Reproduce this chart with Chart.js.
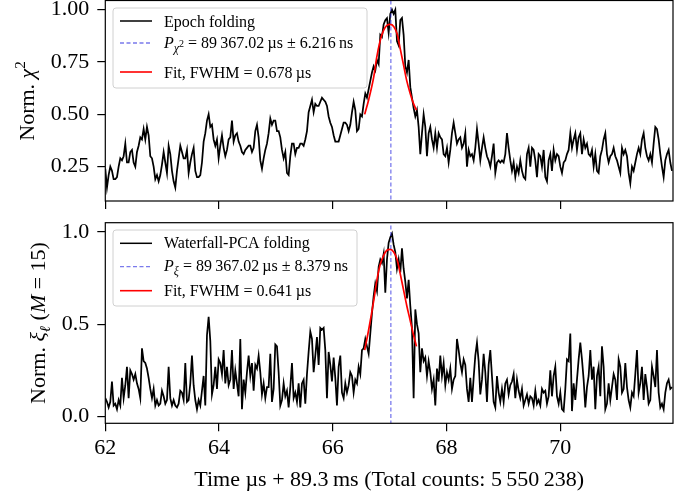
<!DOCTYPE html>
<html><head><meta charset="utf-8">
<script src="https://cdn.jsdelivr.net/npm/chart.js@4.4.1/dist/chart.umd.min.js"></script>
<style>
html,body{margin:0;padding:0;background:#fff;}
#wrap{position:relative;width:696px;height:499px;overflow:hidden;background:#fff;}
canvas{position:absolute;left:0;}
#c1{top:0}
#c2{top:215px}
</style></head><body>
<div id="wrap"><canvas id="c1" width="696" height="215"></canvas><canvas id="c2" width="696" height="284"></canvas></div>
<script>
// ---------------- data ----------------
const timeStart = 62.0;      // µs, first folded sample
const timeStep = 0.0293;     // µs between samples
const epochFolding = [
0.24,0.15,0.21,0.25,0.23,0.19,0.19,0.20,0.25,0.29,
0.28,0.30,0.36,0.27,0.27,0.32,0.33,0.27,0.25,0.32,
0.35,0.39,0.38,0.43,0.38,0.44,0.40,0.30,0.29,0.25,
0.19,0.21,0.18,0.21,0.26,0.32,0.27,0.22,0.35,0.31,
0.23,0.18,0.15,0.23,0.29,0.35,0.32,0.29,0.29,0.33,
0.22,0.27,0.31,0.34,0.23,0.20,0.20,0.21,0.27,0.37,
0.41,0.47,0.50,0.44,0.45,0.38,0.35,0.38,0.29,0.35,
0.40,0.34,0.30,0.33,0.38,0.39,0.47,0.37,0.40,0.41,
0.37,0.35,0.32,0.31,0.33,
0.34,0.35,0.35,0.32,0.34,
0.42,0.45,0.39,0.28,0.24,0.29,0.33,0.36,0.41,0.48,
0.45,0.47,0.47,0.42,0.42,0.39,0.33,0.29,0.32,0.22,
0.21,0.30,0.36,0.36,0.31,0.34,0.34,0.36,0.36,0.35,
0.38,0.42,0.51,0.54,0.57,0.51,0.55,0.54,0.54,0.56,
0.58,0.57,0.56,0.54,0.49,0.46,0.44,0.40,0.37,0.37,
0.37,0.40,0.43,0.46,0.46,0.45,0.42,0.45,0.51,0.56,
0.52,0.42,0.43,0.50,0.49,0.55,
0.60,0.58,0.62,0.66,0.70,0.73,0.71,0.76,0.74,0.88,
0.87,0.93,0.95,0.96,0.89,0.98,1.00,0.98,1.00,0.85,
0.83,0.95,0.96,0.88,0.73,0.70,0.76,0.63,0.58,0.53,
0.49,0.52,0.44,0.31,0.41,0.50,0.44,0.30,0.41,0.44,
0.38,0.34,0.41,0.34,0.41,0.39,0.38,0.31,0.30,0.34,
0.27,0.33,0.41,0.46,0.41,0.36,0.38,0.39,0.34,0.36,
0.41,0.25,0.33,0.30,0.31,0.28,0.34,0.43,0.36,0.28,
0.34,0.39,0.34,0.30,0.28,0.25,0.30,0.36,0.22,0.27,
0.28,0.27,0.28,0.27,0.31,0.41,0.34,0.28,0.23,0.27,
0.20,0.25,0.22,0.28,0.23,0.20,0.19,0.31,0.34,0.25,
0.34,0.33,0.28,0.20,0.31,0.30,0.25,0.33,0.20,0.18,
0.28,0.31,0.23,0.33,0.28,0.31,0.30,0.25,0.22,0.27,
0.28,0.31,0.33,0.41,0.34,0.38,0.41,0.33,0.39,0.41,
0.31,0.38,0.34,0.36,0.31,0.30,0.33,0.25,0.31,0.23,
0.22,0.30,0.33,0.38,0.41,0.31,0.27,0.30,0.31,0.34,
0.30,0.28,0.25,0.22,0.34,0.31,0.33,0.30,0.22,0.17,
0.25,0.23,0.27,0.31,0.34,0.31,0.38,0.41,0.34,0.30,
0.28,0.31,0.27,0.36,0.44,0.43,0.38,0.31,0.25,0.20,
0.28,0.31,0.33,0.27,0.23
];
const waterfallPCA = [
0.10,0.08,0.05,0.08,0.19,0.06,0.07,0.04,0.09,0.06,
0.21,0.10,0.17,0.27,0.10,0.25,0.23,0.20,0.23,0.18,
0.15,0.10,0.37,0.30,0.29,0.26,0.21,0.15,0.10,0.15,
0.06,0.09,0.06,0.07,0.14,0.11,0.07,0.09,0.27,0.10,
0.06,0.09,0.06,0.05,0.07,0.14,0.13,0.09,0.29,0.08,
0.09,0.18,0.33,0.17,0.09,0.04,0.09,0.06,0.14,0.22,
0.06,0.44,0.54,0.41,0.12,0.17,0.27,0.15,0.31,0.29,
0.23,0.36,0.18,0.27,0.17,0.20,0.36,0.15,0.25,0.18,
0.11,0.42,0.04,0.20,0.13,
0.24,0.33,0.22,0.29,0.14,0.28,0.26,0.33,0.24,0.12,
0.18,0.10,0.16,0.16,0.34,0.08,0.15,0.39,0.38,0.24,
0.06,0.09,0.18,0.11,0.14,0.05,0.16,0.29,0.10,0.13,
0.08,0.18,0.05,0.18,0.20,0.07,0.23,0.35,0.46,0.42,
0.24,0.33,0.43,0.28,0.48,0.47,0.48,0.36,0.10,0.35,
0.28,0.19,0.32,0.21,0.06,0.27,0.33,0.13,0.10,0.18,
0.13,0.17,0.24,0.22,0.13,0.20,0.18,0.27,0.23,0.36,0.37,
0.42,0.38,0.34,0.45,0.56,0.65,0.72,0.68,0.81,0.85,
0.83,0.88,0.67,0.85,0.94,0.97,0.99,0.93,0.89,0.80,
0.85,0.78,0.91,0.80,0.73,0.64,0.74,0.60,0.48,0.10,
0.58,0.50,0.45,0.24,0.37,0.30,0.32,0.22,0.30,0.24,
0.15,0.20,0.06,0.26,0.19,0.33,0.22,0.29,0.17,0.24,
0.20,0.26,0.15,0.20,0.22,0.42,0.36,0.29,0.24,0.31,
0.28,0.15,0.08,0.21,0.08,0.21,0.33,0.40,0.30,0.12,
0.20,0.34,0.24,0.08,0.28,0.36,0.22,0.08,0.05,0.22,
0.13,0.08,0.15,0.08,0.18,0.20,0.12,0.17,0.19,0.23,
0.10,0.20,0.14,0.10,0.15,0.06,0.09,0.12,0.07,0.11,
0.10,0.06,0.14,0.07,0.09,0.06,0.15,0.13,0.14,0.07,
0.11,0.25,0.11,0.22,0.27,0.11,0.07,0.13,0.04,0.03,
0.15,0.31,0.30,0.45,0.03,0.18,0.09,0.20,0.31,0.40,
0.31,0.20,0.05,0.16,0.22,0.36,0.20,0.27,0.04,0.22,
0.27,0.11,0.38,0.27,0.04,0.07,0.18,0.09,0.16,0.23,
0.20,0.09,0.31,0.27,0.13,0.15,0.29,0.16,0.09,0.05,
0.13,0.11,0.23,0.36,0.13,0.18,0.27,0.09,0.23,0.16,
0.07,0.09,0.27,0.22,0.16,0.36,0.13,0.05,0.07,0.04,
0.13,0.18,0.20,0.15,0.16
];
const fitTimes = [66.56,66.63,66.72,66.77,66.83,66.89,66.95,67.01,67.07,67.13,67.18,67.24,67.30,67.36,67.42,67.47];
const fitEpoch = [0.50,0.57,0.68,0.77,0.85,0.90,0.925,0.93,0.92,0.885,0.82,0.74,0.66,0.60,0.55,0.52];
const fitWaterfall = [0.36,0.47,0.63,0.73,0.82,0.87,0.90,0.905,0.89,0.85,0.78,0.69,0.60,0.52,0.44,0.38];
const foldPeakTime = 67.02;
const xTicks = [62,64,66,68,70];
const xTickLabels = ['62','64','66','68','70'];
const yTopTicks = [0.25,0.50,0.75,1.00];
const yTopTickLabels = ['0.25','0.50','0.75','1.00'];
const yBotTicks = [0.0,0.5,1.0];
const yBotTickLabels = ['0.0','0.5','1.0'];
const xTitle = 'Time µs + 89.3\u2009ms (Total counts: 5\u2009550\u2009238)';

// ---------------- drawing ----------------
const SERIF = "'Liberation Serif','DejaVu Serif','Times New Roman',serif";
const PERIOD_COLOR = 'rgba(40,40,225,0.62)';

function toXY(values){ return values.map((v,i)=>({x: timeStart + i*timeStep, y: v})); }
function fitXY(vals){ return fitTimes.map((t,i)=>({x:t, y:vals[i]})); }

function runsWidth(ctx, runs){
  let w = 0;
  for (const r of runs){ ctx.font = (r.it?'italic ':'') + r.s + 'px ' + SERIF; w += ctx.measureText(r.t).width; }
  return w;
}
function drawRuns(ctx, runs, x, y){
  let cx = x;
  ctx.textBaseline = 'alphabetic'; ctx.textAlign = 'left'; ctx.fillStyle = '#000';
  for (const r of runs){
    ctx.font = (r.it?'italic ':'') + r.s + 'px ' + SERIF;
    ctx.fillText(r.t, cx, y + (r.dy||0));
    cx += ctx.measureText(r.t).width;
  }
}

const decorPlugin = {
  id: 'decor',
  afterDatasetsDraw(chart, args, opts){
    const ctx = chart.ctx, a = chart.chartArea;
    ctx.save();
    // frame
    ctx.strokeStyle = '#000'; ctx.lineWidth = 1.2;
    ctx.strokeRect(a.left, a.top, a.right - a.left, a.bottom - a.top);
    // legend
    const L = opts.legend;
    ctx.beginPath();
    const bx=L.box[0], by=L.box[1], bw=L.box[2], bh=L.box[3], r=3;
    ctx.moveTo(bx+r,by); ctx.lineTo(bx+bw-r,by); ctx.quadraticCurveTo(bx+bw,by,bx+bw,by+r);
    ctx.lineTo(bx+bw,by+bh-r); ctx.quadraticCurveTo(bx+bw,by+bh,bx+bw-r,by+bh);
    ctx.lineTo(bx+r,by+bh); ctx.quadraticCurveTo(bx,by+bh,bx,by+bh-r);
    ctx.lineTo(bx,by+r); ctx.quadraticCurveTo(bx,by,bx+r,by);
    ctx.closePath();
    ctx.fillStyle = 'rgba(255,255,255,0.8)'; ctx.fill();
    ctx.strokeStyle = '#d0d0d0'; ctx.lineWidth = 1; ctx.stroke();
    L.rows.forEach(row=>{
      ctx.beginPath();
      ctx.strokeStyle = row.color; ctx.lineWidth = row.lw; ctx.setLineDash(row.dash||[]);
      ctx.moveTo(120, row.ly); ctx.lineTo(152, row.ly); ctx.stroke();
      ctx.setLineDash([]);
      drawRuns(ctx, row.runs, 164, row.by);
    });
    // rotated y title
    const T = opts.ytitle;
    ctx.translate(T.x, T.y); ctx.rotate(-Math.PI/2);
    const w = runsWidth(ctx, T.runs);
    drawRuns(ctx, T.runs, -w/2, 0);
    ctx.restore();
  }
};

function yScale(min, max, ticks, labels){
  return {
    type:'linear', min:min, max:max,
    afterBuildTicks(s){ s.ticks = ticks.map(v=>({value:v})); },
    ticks:{ callback:(v,i)=>labels[i], font:{family:SERIF, size:22}, color:'#000', padding:8 },
    grid:{ drawOnChartArea:false, drawTicks:true, tickLength:8, color:'#000', lineWidth:1.2 },
    border:{ display:false },
    afterFit(s){ s.width = 105.3; s.paddingTop = 0; s.paddingBottom = 0; }
  };
}
function xScale(showLabels, height){
  return {
    type:'linear', min:62, max:71.98,
    afterBuildTicks(s){ s.ticks = xTicks.map(v=>({value:v})); },
    ticks:{ display:showLabels, callback:(v,i)=>xTickLabels[i], font:{family:SERIF, size:22}, color:'#000', padding:4, maxRotation:0 },
    grid:{ drawOnChartArea:false, drawTicks:true, tickLength:8, color:'#000', lineWidth:1.2 },
    border:{ display:false },
    title:{ display:showLabels, text:xTitle, font:{family:SERIF, size:22}, color:'#000', padding:{top:0,bottom:6} },
    afterFit(s){ s.height = height; s.paddingLeft = 0; s.paddingRight = 0; }
  };
}
function datasets(series, fit){
  return [
    { data:[{x:foldPeakTime,y:-5},{x:foldPeakTime,y:5}], borderColor:PERIOD_COLOR, borderWidth:1.3, borderDash:[4,2.5], pointRadius:0, fill:false },
    { data:fitXY(fit), borderColor:'#ff0000', borderWidth:1.7, pointRadius:0, fill:false, tension:0.4, cubicInterpolationMode:'monotone' },
    { data:toXY(series), borderColor:'#000', borderWidth:1.75, pointRadius:0, fill:false, tension:0, borderJoinStyle:'miter' }
  ];
}
function baseOptions(pad, xs, ys, decor){
  return {
    responsive:false, animation:false, devicePixelRatio:1,
    layout:{ padding:pad },
    scales:{ x:xs, y:ys },
    plugins:{ legend:{display:false}, tooltip:{enabled:false}, decor:decor }
  };
}

new Chart(document.getElementById('c1'), {
  type:'line',
  data:{ datasets: datasets(epochFolding, fitEpoch) },
  options: baseOptions({left:0,right:23,top:0.5,bottom:0}, xScale(false, 14), yScale(0.086, 1.044, yTopTicks, yTopTickLabels), {
    legend:{ box:[113,8,254,80], rows:[
      { ly:21, by:26.7, color:'#000', lw:1.5, runs:[{t:'Epoch folding', s:16}] },
      { ly:43, by:48.3, color:PERIOD_COLOR, lw:1.3, dash:[4,2.5], runs:[{t:'P',s:16,it:true},{t:'χ',s:12,it:true,dy:4},{t:'2',s:10,dy:-1},{t:' = 89\u2009367.02\u2009µs ± 6.216\u2009ns',s:16}] },
      { ly:72, by:77.7, color:'#ff0000', lw:1.6, runs:[{t:'Fit, FWHM = 0.678\u2009µs', s:16}] }
    ]},
    ytitle:{ x:33.5, y:101, runs:[{t:'Norm. ',s:22},{t:'χ',s:22,it:true},{t:'2',s:15,dy:-9}] }
  }),
  plugins:[decorPlugin]
});

new Chart(document.getElementById('c2'), {
  type:'line',
  data:{ datasets: datasets(waterfallPCA, fitWaterfall) },
  options: baseOptions({left:0,right:23,top:7.7,bottom:0}, xScale(true, 75.7), yScale(-0.036, 1.049, yBotTicks, yBotTickLabels), {
    legend:{ box:[113,15,244,76], rows:[
      { ly:28.3, by:33.3, color:'#000', lw:1.5, runs:[{t:'Waterfall-PCA folding', s:16}] },
      { ly:51.7, by:56, color:PERIOD_COLOR, lw:1.3, dash:[4,2.5], runs:[{t:'P',s:16,it:true},{t:'ξ',s:12,it:true,dy:4},{t:' = 89\u2009367.02\u2009µs ± 8.379\u2009ns',s:16}] },
      { ly:75.7, by:80.7, color:'#ff0000', lw:1.6, runs:[{t:'Fit, FWHM = 0.641\u2009µs', s:16}] }
    ]},
    ytitle:{ x:45, y:108, runs:[{t:'Norm. ',s:22},{t:'ξ',s:22,it:true},{t:'ℓ',s:15,it:true,dy:5},{t:' (',s:22},{t:'M',s:22,it:true},{t:' = 15)',s:22}] }
  }),
  plugins:[decorPlugin]
});
</script>
</body></html>
